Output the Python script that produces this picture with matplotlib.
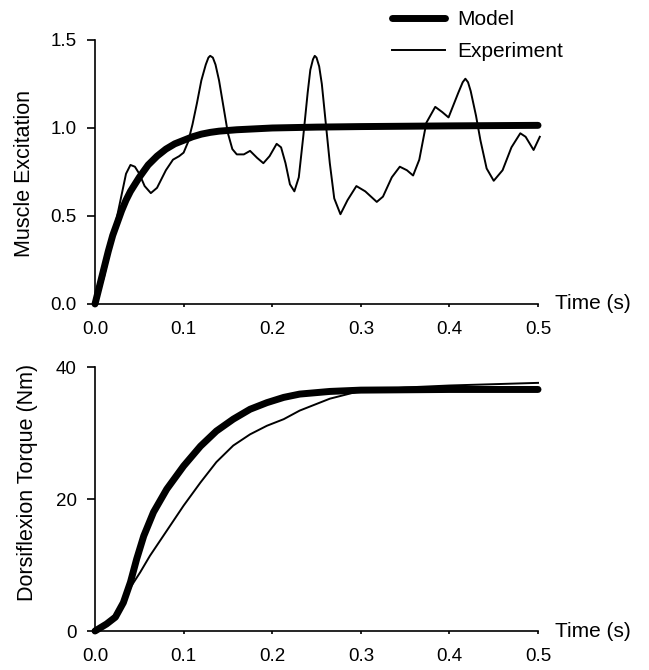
import numpy as np
import matplotlib
matplotlib.use("Agg")
import matplotlib.pyplot as plt

plt.rcParams['font.family'] = ['Liberation Sans', 'DejaVu Sans']

# top panel: muscle excitation
t_model_exc = [0.0, 0.005, 0.01, 0.015, 0.02, 0.025, 0.03, 0.035, 0.04, 0.045, 0.05,
               0.06, 0.07, 0.08, 0.09, 0.10, 0.11, 0.12, 0.13, 0.14, 0.16, 0.18,
               0.2, 0.25, 0.3, 0.4, 0.5]
model_exc = [0.0, 0.1, 0.2, 0.3, 0.39, 0.46, 0.53, 0.59, 0.64, 0.68, 0.72,
             0.79, 0.84, 0.88, 0.91, 0.93, 0.95, 0.965, 0.975, 0.982, 0.99, 0.995,
             1.0, 1.005, 1.008, 1.012, 1.015]

t_exp_exc = [0.0, 0.01, 0.02, 0.03, 0.035, 0.04, 0.045, 0.05, 0.056, 0.063, 0.07,
             0.08, 0.088, 0.095, 0.1, 0.105, 0.11, 0.115, 0.12, 0.125, 0.128, 0.13,
             0.133, 0.136, 0.14, 0.145, 0.15, 0.155, 0.16, 0.168, 0.175, 0.183,
             0.19, 0.197, 0.205, 0.21, 0.215, 0.22, 0.225, 0.23, 0.235, 0.24,
             0.243, 0.246, 0.248, 0.25, 0.253, 0.256, 0.26, 0.265, 0.27, 0.277,
             0.285, 0.295, 0.305, 0.318, 0.325, 0.335, 0.344, 0.352, 0.359, 0.366,
             0.374, 0.384, 0.392, 0.399, 0.41, 0.415, 0.418, 0.421, 0.424, 0.43,
             0.435, 0.442, 0.45, 0.46, 0.47, 0.48, 0.486, 0.495, 0.502]
exp_exc = [0.0, 0.15, 0.38, 0.62, 0.74, 0.79, 0.78, 0.74, 0.67, 0.63, 0.66,
           0.76, 0.82, 0.84, 0.86, 0.92, 1.02, 1.14, 1.27, 1.36, 1.40, 1.41,
           1.40, 1.36, 1.27, 1.12, 0.97, 0.88, 0.85, 0.85, 0.87, 0.83,
           0.80, 0.84, 0.91, 0.89, 0.80, 0.68, 0.64, 0.72, 0.95, 1.2,
           1.33, 1.39, 1.41, 1.40, 1.35, 1.25, 1.05, 0.8, 0.6, 0.51,
           0.59, 0.67, 0.64, 0.58, 0.61, 0.72, 0.78, 0.76, 0.73, 0.82,
           1.03, 1.12, 1.09, 1.06, 1.2, 1.26, 1.28, 1.26, 1.21, 1.07,
           0.93, 0.77, 0.70, 0.76, 0.89, 0.97, 0.95, 0.875, 0.95]

# bottom panel: dorsiflexion torque
t_model_tq = [0.0, 0.013, 0.023, 0.032, 0.040, 0.047, 0.055, 0.066, 0.081, 0.100,
              0.119, 0.137, 0.156, 0.175, 0.194, 0.213, 0.231, 0.265, 0.3, 0.4, 0.5]
model_tq = [0.0, 1.06, 2.1, 4.3, 7.4, 10.9, 14.4, 18.0, 21.5, 25.0,
            28.0, 30.3, 32.1, 33.6, 34.6, 35.4, 35.9, 36.3, 36.5, 36.6, 36.6]
t_exp_tq = [0.0, 0.013, 0.023, 0.032, 0.040, 0.051, 0.062, 0.081, 0.100, 0.119,
            0.137, 0.156, 0.175, 0.194, 0.213, 0.231, 0.265, 0.3, 0.35, 0.4, 0.45, 0.5]
exp_tq = [0.0, 1.2, 2.6, 4.6, 6.6, 8.9, 11.4, 15.2, 19.0, 22.5,
          25.6, 28.1, 29.8, 31.1, 32.1, 33.4, 35.2, 36.4, 36.9, 37.2, 37.4, 37.6]

x_ticks = [0.0, 0.1, 0.2, 0.3, 0.4, 0.5]

fig = plt.figure(figsize=(6.49, 6.70), dpi=100)
ax1 = fig.add_axes([0.1464, 0.5463, 0.6826, 0.394])
ax2 = fig.add_axes([0.1464, 0.0582, 0.6826, 0.394])

thick, thin = 5.0, 1.4
fs = 13.5

for ax in (ax1, ax2):
    ax.spines['top'].set_visible(False)
    ax.spines['right'].set_visible(False)
    ax.spines['left'].set_linewidth(1.2)
    ax.spines['bottom'].set_linewidth(1.2)
    ax.set_xlim(0, 0.5)
    ax.set_xticks(x_ticks)
    ax.set_xticklabels([f"{v:.1f}" for v in x_ticks])
    ax.tick_params(axis='x', direction='out', length=2.5, width=1.2, pad=10, labelsize=fs)
    ax.tick_params(axis='y', direction='out', length=6, width=1.2, pad=7, labelsize=fs)
    ax.text(0.5195, 0, "Time (s)", ha='left', va='center', fontsize=15, clip_on=False)

# top panel
ax1.plot(t_model_exc, model_exc, color='black', lw=thick, solid_capstyle='round',
         label='Model', clip_on=False)
ax1.plot(t_exp_exc, exp_exc, color='black', lw=thin, label='Experiment', clip_on=False)
ax1.set_ylim(0, 1.5)
ax1.set_yticks([0.0, 0.5, 1.0, 1.5])
ax1.set_yticklabels(["0.0", "0.5", "1.0", "1.5"])
ax1.set_ylabel("Muscle Excitation", fontsize=15.5)
ax1.yaxis.set_label_coords(-0.135, 0.496)
ax1.legend(loc='upper left', bbox_to_anchor=(0.670, 1.112), frameon=False,
           fontsize=15, handlelength=2.55, handletextpad=0.6, labelspacing=0.6,
           borderaxespad=0, borderpad=0)

# bottom panel
ax2.plot(t_model_tq, model_tq, color='black', lw=thick, solid_capstyle='round',
         clip_on=False)
ax2.plot(t_exp_tq, exp_tq, color='black', lw=thin, clip_on=False)
ax2.set_ylim(0, 40)
ax2.set_yticks([0, 20, 40])
ax2.set_ylabel("Dorsiflexion Torque (Nm)", fontsize=15.5)
ax2.yaxis.set_label_coords(-0.129, 0.564)

fig.savefig("out.png", dpi=100)
